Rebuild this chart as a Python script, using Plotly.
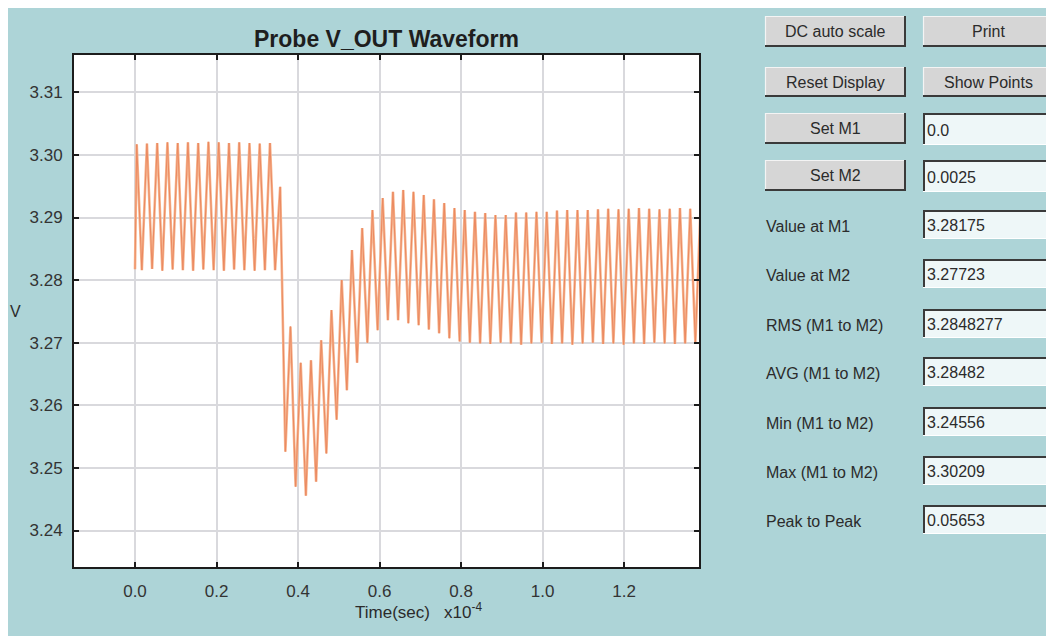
import plotly.graph_objects as go

# ---------------- data (time in units of 1e-4 s, voltage in V) ----------------
trough_t = [0.0000, 0.0168, 0.0420, 0.0671, 0.0923, 0.1174, 0.1426, 0.1677, 0.1929, 0.2181,
            0.2432, 0.2684, 0.2935, 0.3187, 0.3438, 0.3690, 0.3941, 0.4193, 0.4444, 0.4696,
            0.4947, 0.5199, 0.5450, 0.5702, 0.5953, 0.6205, 0.6457, 0.6708, 0.6960, 0.7211,
            0.7463, 0.7714, 0.7966, 0.8217, 0.8469, 0.8720, 0.8972, 0.9223, 0.9475, 0.9727,
            0.9978, 1.0230, 1.0481, 1.0733, 1.0984, 1.1236, 1.1487, 1.1739, 1.1990, 1.2242,
            1.2493, 1.2745, 1.2996, 1.3248, 1.3500, 1.3751]
trough_v = [3.28175, 3.2816, 3.2818, 3.2815, 3.2817, 3.2816, 3.2815, 3.2817, 3.2816, 3.2815,
            3.2817, 3.2816, 3.2815, 3.2816, 3.2816, 3.2526, 3.2470, 3.24556, 3.2478, 3.2523,
            3.2577, 3.2624, 3.2668, 3.2700, 3.2720, 3.2736, 3.2736, 3.2731, 3.2728, 3.2721,
            3.2715, 3.2707, 3.2702, 3.2700, 3.2699, 3.2698, 3.2700, 3.2699, 3.2697, 3.2699,
            3.2700, 3.2698, 3.2699, 3.2697, 3.2699, 3.2700, 3.2698, 3.2699, 3.2697, 3.2699,
            3.2698, 3.2700, 3.2699, 3.2698, 3.2699, 3.2700]
peak_t = [0.0042, 0.0293, 0.0545, 0.0796, 0.1048, 0.1299, 0.1551, 0.1802, 0.2054, 0.2306,
          0.2557, 0.2809, 0.3060, 0.3312, 0.3563, 0.3815, 0.4066, 0.4318, 0.4569, 0.4821,
          0.5072, 0.5324, 0.5575, 0.5827, 0.6078, 0.6330, 0.6582, 0.6833, 0.7085, 0.7336,
          0.7588, 0.7839, 0.8091, 0.8342, 0.8594, 0.8845, 0.9097, 0.9348, 0.9600, 0.9852,
          1.0103, 1.0355, 1.0606, 1.0858, 1.1109, 1.1361, 1.1612, 1.1864, 1.2115, 1.2367,
          1.2618, 1.2870, 1.3121, 1.3373, 1.3625, 1.3876]
peak_v = [3.3017, 3.3018, 3.3019, 3.3020, 3.3019, 3.3020, 3.3019, 3.30209, 3.3020, 3.3019,
          3.3020, 3.3019, 3.3018, 3.3019, 3.2949, 3.2726, 3.2668, 3.2672, 3.2704, 3.2752,
          3.2800, 3.2848, 3.2883, 3.2912, 3.2931, 3.2941, 3.2944, 3.2941, 3.2936, 3.2929,
          3.2923, 3.2915, 3.2912, 3.2909, 3.2907, 3.2904, 3.2904, 3.2908, 3.2908, 3.2909,
          3.2909, 3.2911, 3.2912, 3.2912, 3.2912, 3.2913, 3.2914, 3.2913, 3.2914, 3.2915,
          3.2914, 3.2913, 3.2914, 3.2915, 3.2914, 3.2913]

x_ticks = [0.0, 0.2, 0.4, 0.6, 0.8, 1.0, 1.2]
x_tick_labels = ["0.0", "0.2", "0.4", "0.6", "0.8", "1.0", "1.2"]
y_ticks = [3.24, 3.25, 3.26, 3.27, 3.28, 3.29, 3.30, 3.31]
y_tick_labels = ["3.24", "3.25", "3.26", "3.27", "3.28", "3.29", "3.30", "3.31"]

buttons = ["DC auto scale", "Print", "Reset Display", "Show Points", "Set M1", "Set M2"]
marker_values = ["0.0", "0.0025"]
stat_labels = ["Value at M1", "Value at M2", "RMS (M1 to M2)", "AVG (M1 to M2)",
               "Min (M1 to M2)", "Max (M1 to M2)", "Peak to Peak"]
stat_values = ["3.28175", "3.27723", "3.2848277", "3.28482", "3.24556", "3.30209", "0.05653"]

# interleave troughs and peaks into the waveform
wave_t, wave_v = [], []
for tt, tv, pt, pv in zip(trough_t, trough_v, peak_t, peak_v):
    wave_t += [tt, pt]
    wave_v += [tv, pv]

# ---------------- layout geometry ----------------
# The page body has an 8px margin, so the figure starts at screen (8, 8).
OFF = 8
W_FIG, H_FIG = 1054 - OFF, 636 - OFF
PLOT_L, PLOT_R, PLOT_T, PLOT_B = 74, 699, 55, 567          # screen pixels
ML, MT = PLOT_L - OFF, PLOT_T - OFF
PW, PH = PLOT_R - PLOT_L, PLOT_B - PLOT_T
MR, MB = W_FIG - ML - PW, H_FIG - MT - PH


def fx(x):  # screen x -> paper x
    return (x - PLOT_L) / PW


def fy(y):  # screen y -> paper y
    return (PLOT_B - y) / PH


TEAL = "#add4d7"
FONT = "Liberation Sans, Arial, sans-serif"
TXT = "#2b2b2b"

fig = go.Figure()
fig.add_trace(go.Scatter(x=wave_t, y=wave_v, mode="lines",
                         line=dict(color="#f7b690", width=2.6), hoverinfo="skip",
                         showlegend=False))
fig.add_trace(go.Scatter(x=wave_t, y=wave_v, mode="lines",
                         line=dict(color="#e2653a", width=1.0), opacity=0.55,
                         hoverinfo="skip", showlegend=False))

shapes = []
annotations = []


def add_button(x0, y0, x1, y1, label):
    shapes.append(dict(type="rect", xref="paper", yref="paper", x0=fx(x0), x1=fx(x1),
                       y0=fy(y1), y1=fy(y0), fillcolor="#d6d6d6", line=dict(width=0),
                       layer="above"))
    shapes.append(dict(type="line", xref="paper", yref="paper", x0=fx(x0), x1=fx(x1),
                       y0=fy(y0 + 0.5), y1=fy(y0 + 0.5), line=dict(color="#f4f4f4", width=1.2),
                       layer="above"))
    shapes.append(dict(type="line", xref="paper", yref="paper", x0=fx(x0 + 0.5), x1=fx(x0 + 0.5),
                       y0=fy(y0), y1=fy(y1), line=dict(color="#f4f4f4", width=1.2),
                       layer="above"))
    shapes.append(dict(type="line", xref="paper", yref="paper", x0=fx(x0), x1=fx(x1),
                       y0=fy(y1 - 1), y1=fy(y1 - 1), line=dict(color="#3a3a3a", width=2),
                       layer="above"))
    shapes.append(dict(type="line", xref="paper", yref="paper", x0=fx(x1 - 1), x1=fx(x1 - 1),
                       y0=fy(y0), y1=fy(y1), line=dict(color="#3a3a3a", width=2),
                       layer="above"))
    annotations.append(dict(xref="paper", yref="paper", x=fx((x0 + x1) / 2), y=fy((y0 + y1) / 2),
                            text=label, showarrow=False, xanchor="center", yanchor="middle",
                            font=dict(family=FONT, size=16, color=TXT)))


def add_textbox(x0, y0, x1, y1, value):
    shapes.append(dict(type="rect", xref="paper", yref="paper", x0=fx(x0), x1=fx(x1),
                       y0=fy(y1), y1=fy(y0), fillcolor="#eef7f8", line=dict(width=0),
                       layer="above"))
    shapes.append(dict(type="line", xref="paper", yref="paper", x0=fx(x0), x1=fx(x1),
                       y0=fy(y0 + 1), y1=fy(y0 + 1), line=dict(color="#3a3a3a", width=2),
                       layer="above"))
    shapes.append(dict(type="line", xref="paper", yref="paper", x0=fx(x0 + 1), x1=fx(x0 + 1),
                       y0=fy(y0), y1=fy(y1), line=dict(color="#3a3a3a", width=2),
                       layer="above"))
    shapes.append(dict(type="line", xref="paper", yref="paper", x0=fx(x0), x1=fx(x1),
                       y0=fy(y1 - 0.5), y1=fy(y1 - 0.5), line=dict(color="#ffffff", width=1),
                       layer="above"))
    annotations.append(dict(xref="paper", yref="paper", x=fx(x0 + 2), y=fy((y0 + y1) / 2 + 1),
                            text=value, showarrow=False, xanchor="left", yanchor="middle",
                            font=dict(family=FONT, size=16, color=TXT)))


# buttons and marker boxes
LX0, LX1, RX0, RX1 = 765, 906, 923, 1053
add_button(LX0, 16, LX1, 47, buttons[0])
add_button(RX0, 16, RX1, 47, buttons[1])
add_button(LX0, 67, LX1, 97, buttons[2])
add_button(RX0, 67, RX1, 97, buttons[3])
add_button(LX0, 113, LX1, 144, buttons[4])
add_button(LX0, 160, LX1, 191, buttons[5])
add_textbox(923, 113, 1056, 145, marker_values[0])
add_textbox(923, 160, 1056, 192, marker_values[1])

box_tops = [210, 259, 309, 357, 407, 456, 505]
for lab, val, top in zip(stat_labels, stat_values, box_tops):
    add_textbox(923, top, 1056, top + 29, val)
    annotations.append(dict(xref="paper", yref="paper", x=fx(764), y=fy(top + 16),
                            text=lab, showarrow=False, xanchor="left", yanchor="middle",
                            font=dict(family=FONT, size=16, color=TXT)))

# title and axis titles
annotations.append(dict(xref="paper", yref="paper", x=fx(386), y=fy(39),
                        text="<b>Probe V_OUT Waveform</b>", showarrow=False,
                        xanchor="center", yanchor="middle",
                        font=dict(family=FONT, size=23, color="#1e1e1e")))
annotations.append(dict(xref="paper", yref="paper", x=fx(15), y=fy(311),
                        text="V", showarrow=False, xanchor="center", yanchor="middle",
                        font=dict(family=FONT, size=16, color=TXT)))
annotations.append(dict(xref="paper", yref="paper", x=fx(418), y=fy(611),
                        text="Time(sec)   x10<sup>-4</sup>", showarrow=False,
                        xanchor="center", yanchor="middle",
                        font=dict(family=FONT, size=17, color=TXT)))

axis_common = dict(showgrid=True, gridcolor="#d9d9dd", gridwidth=1.5,
                   showline=True, linecolor="#1c1c1c", linewidth=2, mirror="ticks",
                   ticks="inside", ticklen=5, tickwidth=1.5, tickcolor="#1c1c1c",
                   zeroline=False, tickfont=dict(family=FONT, size=17, color="#333333"))

fig.update_layout(
    width=W_FIG, height=H_FIG,
    margin=dict(l=ML, r=MR, t=MT, b=MB, pad=0),
    paper_bgcolor=TEAL, plot_bgcolor="white",
    showlegend=False,
    xaxis=dict(range=[-0.1497, 1.384], tickvals=x_ticks, ticktext=x_tick_labels,
               ticklabelstandoff=8, **axis_common),
    yaxis=dict(range=[3.23417, 3.31596], tickvals=y_ticks, ticktext=y_tick_labels,
               ticklabelstandoff=6, **axis_common),
    shapes=shapes,
    annotations=annotations,
)

fig.write_html("out.html", config={"displayModeBar": False})
